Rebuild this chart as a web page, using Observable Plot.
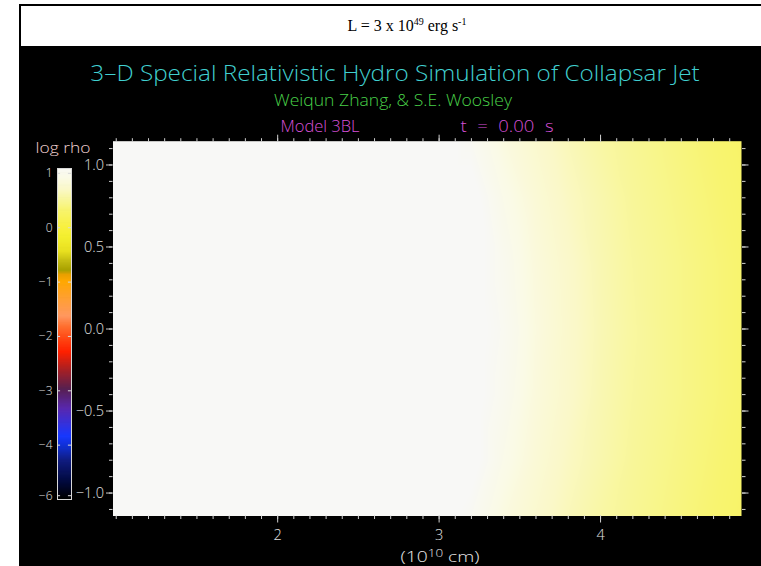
<!DOCTYPE html>
<html><head><meta charset="utf-8">
<script src="https://cdn.jsdelivr.net/npm/d3@7"></script>
<script src="https://cdn.jsdelivr.net/npm/@observablehq/plot@0.6"></script>
<style>
html,body{margin:0;padding:0;background:#fff;}
#page{position:relative;width:761px;height:566px;overflow:hidden;background:#fff;}
#topbox{position:absolute;left:19px;top:4px;width:772px;height:40px;border:2px solid #000;background:#fff;
  font-family:"Liberation Serif","Times New Roman",serif;font-size:16px;text-align:center;line-height:40px;color:#000;}
#topbox sup{font-size:10px;vertical-align:6px;line-height:0;}
#panel{position:absolute;left:19px;top:46px;width:742px;height:520px;background:#000;}
.t{position:absolute;white-space:nowrap;font-family:"Open Sans","DejaVu Sans",sans-serif;font-weight:300;transform:translate(-50%,-50%);line-height:1;}
.t sup{font-size:70%;vertical-align:5px;line-height:0;}
#main,#cbar{position:absolute;left:19px;top:46px;}
</style></head>
<body>
<div id="page">
  <div id="topbox">L = 3 x 10<sup>49</sup> erg s<sup>-1</sup></div>
  <div id="panel"></div>
  <div id="main"></div>
  <div id="cbar"></div>
  <div class="t" data-w="609" style="left:395px;top:72px;font-size:22px;color:#40d0d0;">3–D Special Relativistic Hydro Simulation of Collapsar Jet</div>
  <div class="t" data-w="238" style="left:393px;top:100px;font-size:16px;color:#48d048;">Weiqun Zhang, &amp; S.E. Woosley</div>
  <div class="t" data-w="79" style="left:320px;top:126px;font-size:16px;color:#d850d8;">Model 3BL</div>
  <div class="t" data-w="93" style="left:507px;top:126px;font-size:16px;color:#d850d8;word-spacing:5px;">t = 0.00 s</div>
  <div class="t" data-w="55" style="left:63px;top:148px;font-size:14.5px;color:#f0d0d0;">log rho</div>
  <div class="t" data-w="79" style="left:440px;top:557px;font-size:14.5px;color:#e8e8e8;">(10<sup>10</sup> cm)</div>
</div>
<script>
// ---- data ----
const xDomain = [0.98, 4.873];          // 10^10 cm
const yDomain = [-1.14, 1.145];
const xMajorTicks = [2, 3, 4];
const xTickLabels = ["2", "3", "4"];
const yMajorTicks = [-1, -0.5, 0, 0.5, 1];
const yTickLabels = ["−1.0", "−0.5", "0.0", "0.5", "1.0"];

// sample grid of log rho
const sampleX = [0.98, 2.0, 2.8, 3.0, 3.2, 3.4, 3.6, 3.8, 4.0, 4.2, 4.4, 4.6, 4.873];
const sampleY = [1.145, 0.8, 0.4, 0, -0.4, -0.8, -1.14];
const logRho = [
  [1.15, 1.15, 1.15, 1.15, 1.04, 0.86, 0.74, 0.63, 0.54, 0.47, 0.41, 0.35, 0.27],
  [1.15, 1.15, 1.15, 1.15, 1.15, 0.94, 0.79, 0.67, 0.58, 0.49, 0.43, 0.37, 0.29],
  [1.15, 1.15, 1.15, 1.15, 1.15, 1.00, 0.83, 0.71, 0.60, 0.51, 0.45, 0.39, 0.31],
  [1.15, 1.15, 1.15, 1.15, 1.15, 1.03, 0.85, 0.72, 0.61, 0.52, 0.45, 0.39, 0.31],
  [1.15, 1.15, 1.15, 1.15, 1.15, 1.00, 0.83, 0.71, 0.60, 0.51, 0.45, 0.39, 0.31],
  [1.15, 1.15, 1.15, 1.15, 1.15, 0.94, 0.79, 0.67, 0.58, 0.49, 0.43, 0.37, 0.29],
  [1.15, 1.15, 1.15, 1.15, 1.04, 0.86, 0.74, 0.63, 0.54, 0.47, 0.41, 0.35, 0.27]
];

// colour table (colour-bar position -> colour)
const cbStops = [-5, -4.72, -4.3, -4.05, -3.85, -3.35, -2.98, -2.6, -2.3, -2.1, -1.83, -1.64, -1.3, -1.0, -0.88, -0.8, -0.65, -0.45, -0.17, 0.0, 0.32, 0.45, 0.69, 0.9, 1.09];
const cbColors = ["#000000", "#000838", "#101c80", "#1030d0", "#1838ff", "#5828b0", "#582050", "#b02020", "#ff2000", "#ff4010", "#ff7030", "#ff9860", "#ffa030", "#ffa800", "#e8a000", "#a8a000", "#c0b810", "#e8e020", "#f4f030", "#f8f040", "#f8f470", "#f8f690", "#faf8c8", "#fafae6", "#f8f8f6"];
const cbDomain = [-5, 1.09];
const cbTickPos = [1, 0, -1, -2, -3, -4, -4.93];
const cbTickLabels = ["1", "0", "−1", "−2", "−3", "−4", "−6"];

// ---- build ----
const samples = sampleY.flatMap((y, i) => sampleX.map((x, j) => ({x, y, v: logRho[i][j]})));
const colorOpt = {type: "linear", domain: cbStops, range: cbColors, clamp: true};
const tickCol = "#d0d0d0";
const font = "'Open Sans', 'DejaVu Sans', sans-serif";
const xMinor = d3.range(1.0, 4.87, 0.1).map(d => +d.toFixed(2));
const yMinor = d3.range(-1.1, 1.15, 0.1).map(d => +d.toFixed(2));

const main = Plot.plot({
  width: 742, height: 520,
  marginLeft: 93.5, marginRight: 20, marginTop: 94.7, marginBottom: 50.5,
  style: {background: "transparent", color: "#e0e0e0", fontFamily: font, fontSize: "14px", fontWeight: 300},
  x: {domain: xDomain, axis: null},
  y: {domain: yDomain, axis: null},
  color: colorOpt,
  marks: [
    Plot.raster(samples, {x: "x", y: "y", fill: "v", interpolate: "barycentric",
      x1: xDomain[0], x2: xDomain[1], y1: yDomain[0], y2: yDomain[1]}),
    Plot.axisX({anchor: "bottom", ticks: xMinor, tickSize: 3.5, text: null, label: null, stroke: tickCol}),
    Plot.axisX({anchor: "bottom", ticks: xMajorTicks, tickSize: 7, text: null, label: null, stroke: tickCol}),
    Plot.axisX({anchor: "top", ticks: xMinor, tickSize: 3.5, text: null, label: null, stroke: tickCol}),
    Plot.axisX({anchor: "top", ticks: xMajorTicks, tickSize: 7, text: null, label: null, stroke: tickCol}),
    Plot.axisX({anchor: "bottom", ticks: xMajorTicks, tickSize: 0, tickPadding: 14, fontSize: 14.5, fill: "#e0e0e0", label: null,
      tickFormat: d => xTickLabels[xMajorTicks.indexOf(d)]}),
    Plot.axisY({anchor: "left", ticks: yMinor, tickSize: 3.5, text: null, label: null, stroke: tickCol}),
    Plot.axisY({anchor: "left", ticks: yMajorTicks, tickSize: 6.5, text: null, label: null, stroke: tickCol}),
    Plot.axisY({anchor: "right", ticks: yMinor, tickSize: 3.5, text: null, label: null, stroke: tickCol}),
    Plot.axisY({anchor: "right", ticks: yMajorTicks, tickSize: 6.5, text: null, label: null, stroke: tickCol}),
    Plot.axisY({anchor: "left", ticks: yMajorTicks, tickSize: 0, tickPadding: 9, fontSize: 14.5, fill: "#e0e0e0", label: null,
      tickFormat: d => yTickLabels[yMajorTicks.indexOf(d)]})
  ]
});
document.getElementById("main").appendChild(main);

const ramp = d3.range(cbDomain[0], cbDomain[1], 0.02);
const cbar = Plot.plot({
  width: 90, height: 520,
  marginLeft: 38, marginRight: 38, marginTop: 122, marginBottom: 67,
  style: {background: "transparent", color: "#e0e0e0", fontFamily: font, fontSize: "12px", fontWeight: 300},
  x: {domain: [0, 1], axis: null},
  y: {domain: cbDomain, axis: null},
  color: colorOpt,
  marks: [
    Plot.rect(ramp, {x1: 0, x2: 1, y1: d => d, y2: d => Math.min(d + 0.035, cbDomain[1]), fill: d => d}),
    Plot.frame({stroke: "#d8d8d8"}),
    Plot.ruleY(cbTickPos, {x1: 0, x2: 0.22, stroke: "#d8d8d8"}),
    Plot.ruleY(cbTickPos, {x1: 0.78, x2: 1, stroke: "#d8d8d8"}),
    Plot.axisY({anchor: "left", ticks: cbTickPos, tickSize: 0, tickPadding: 5, fill: "#e0e0e0", label: null,
      tickFormat: d => cbTickLabels[cbTickPos.indexOf(d)]})
  ]
});
document.getElementById("cbar").appendChild(cbar);

// fit title texts to the widths measured in the reference
document.querySelectorAll(".t[data-w]").forEach(el => {
  const w = el.getBoundingClientRect().width;
  const s = (+el.dataset.w) / w;
  el.style.transform = `translate(-50%,-50%) scaleX(${s.toFixed(3)})`;
});
</script>
</body></html>
